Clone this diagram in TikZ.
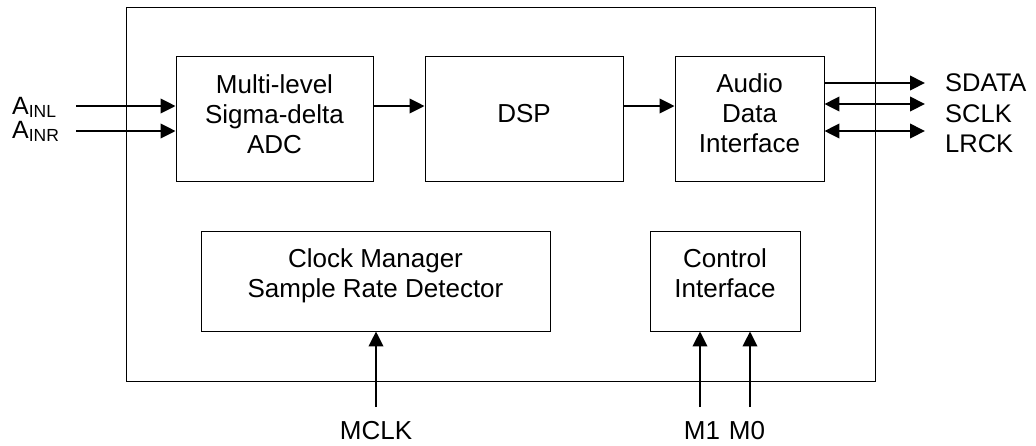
\documentclass[tikz,border=0pt]{standalone}
\usepackage{fontspec}
\setmainfont{Liberation Sans}
\usetikzlibrary{arrows.meta}
\begin{document}
\begin{tikzpicture}[x=1pt,y=-1pt,
  blk/.style={draw=black,line width=0.9pt,fill=white,inner sep=0pt},
  sig/.style={line width=2pt,-{Triangle[length=15pt,width=14.5pt]}},
  bsig/.style={line width=2pt,{Triangle[length=15pt,width=14.5pt]}-{Triangle[length=15pt,width=14.5pt]}},
  txt/.style={font=\fontsize{26}{30}\selectfont,inner sep=0pt,anchor=base},
  lbl/.style={font=\fontsize{25.5}{30}\selectfont,inner sep=0pt,anchor=base west}
]
\useasboundingbox (0,0) rectangle (1036,445);
\fill[white] (0,0) rectangle (1036,445);
% outer box
\node[blk,minimum width=749pt,minimum height=374pt] (chip) at (500.5,194) {};
% blocks
\node[blk,minimum width=197pt,minimum height=125pt] (adc) at (274.5,118.5) {};
\node[blk,minimum width=198pt,minimum height=125pt] (dsp) at (524,118.5) {};
\node[blk,minimum width=149pt,minimum height=125pt] (adi) at (749.5,118.5) {};
\node[blk,minimum width=349pt,minimum height=100pt] (clk) at (375.5,281) {};
\node[blk,minimum width=150pt,minimum height=100pt] (ctl) at (725,281) {};
% block texts
\node[txt] (adcA) at (274.5,93) {Multi-level};
\node[txt] (adcB) at (274.5,123) {Sigma-delta};
\node[txt] (adcC) at (274.5,153) {ADC};
\node[txt] (dspA) at (524,122) {DSP};
\node[txt] (adiA) at (749.5,92) {Audio};
\node[txt] (adiB) at (749.5,122.5) {Data};
\node[txt] (adiC) at (749.5,152.5) {Interface};
\node[txt] (clkA) at (375.5,267) {Clock Manager};
\node[txt] (clkB) at (375.5,297) {Sample Rate Detector};
\node[txt] (ctlA) at (725,267) {Control};
\node[txt] (ctlB) at (725,297) {Interface};
% free ends
\coordinate (ainl) at (76,106);
\coordinate (ainr) at (76,131);
\coordinate (sd) at (925,83);
\coordinate (sc) at (925,104);
\coordinate (lr) at (925,131);
\coordinate (mc) at (376,407);
\coordinate (m1) at (700,407);
\coordinate (m0) at (750,407);
% arrows
\draw[sig] (ainl) -- (ainl -| adc.west);
\draw[sig] (ainr) -- (ainr -| adc.west);
\draw[sig] (adc.east |- 0,106) -- (dsp.west |- 0,106);
\draw[sig] (dsp.east |- 0,106) -- (adi.west |- 0,106);
\draw[sig] (sd -| adi.east) -- (sd);
\draw[bsig] (sc -| adi.east) -- (sc);
\draw[bsig] (lr -| adi.east) -- (lr);
\draw[sig] (mc) -- (mc |- clk.south);
\draw[sig] (m1) -- (m1 |- ctl.south);
\draw[sig] (m0) -- (m0 |- ctl.south);
% labels
\node[lbl,font=\fontsize{25}{28}\selectfont] (la) at (12,114.5) {A\raisebox{-3pt}{\fontsize{17.5}{18}\selectfont INL}};
\node[lbl,font=\fontsize{25}{28}\selectfont] (lb) at (12,138.5) {A\raisebox{-3pt}{\fontsize{17.5}{18}\selectfont INR}};
\node[lbl] (lsd) at (945,91.5) {SDATA};
\node[lbl] (lsc) at (945,122) {SCLK};
\node[lbl] (llr) at (945,152.5) {LRCK};
\node[txt] (lmc) at (376,439) {MCLK};
\node[txt] (lm1) at (702,439) {M1};
\node[txt] (lm0) at (747,439) {M0};
\end{tikzpicture}
\end{document}
